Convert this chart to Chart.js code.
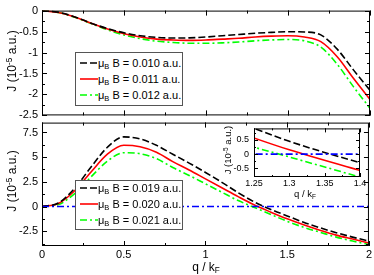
<!DOCTYPE html>
<html>
<head>
<meta charset="utf-8">
<script src="https://cdn.jsdelivr.net/npm/chart.js@4"></script>
<style>
  body { margin: 0; background: #fff; }
  #wrap { position: relative; width: 374px; height: 275px; overflow: hidden;
          font-family: "Liberation Sans", Arial, sans-serif; color: #000; }
  canvas { position: absolute; left: 0; }
  .lbl { position: absolute; white-space: nowrap; line-height: 1; transform: translate(-50%, -50%); }
  .rot { transform: translate(-50%, -50%) rotate(-90deg); }
  .legend { position: absolute; border: 1px solid #555; background: #fff; box-sizing: border-box; }
  .item { position: absolute; left: 0; height: 14px; line-height: 14px; font-size: 11px; white-space: nowrap; }
  .item svg { position: absolute; left: 4px; top: 5px; }
  .item span { position: absolute; left: 22px; }
  sub { font-size: 0.68em; vertical-align: -0.3em; line-height: 0; }
  sup { font-size: 0.68em; vertical-align: 0.55em; line-height: 0; }
</style>
</head>
<body>
<div id="wrap">
  <canvas id="top" width="374" height="126" style="top:0"></canvas>
  <canvas id="bottom" width="374" height="163" style="top:112px"></canvas>
  <canvas id="inset" width="159" height="90" style="left:215px;top:118px"></canvas>

  <div class="lbl rot" style="left:12px;top:61px;font-size:12px">J (10<sup>-5</sup> a.u.)</div>
  <div class="lbl rot" style="left:12px;top:181px;font-size:12px">J (10<sup>-5</sup> a.u.)</div>
  <div class="lbl" style="left:206px;top:267px;font-size:12px">q / k<sub>F</sub></div>
  <div class="lbl rot" style="left:228px;top:150px;font-size:9.5px">J (10<sup>-5</sup> a.u.)</div>
  <div class="lbl" style="left:305px;top:194px;font-size:9.5px">q / k<sub>F</sub></div>

  <div class="legend" id="legTop" style="left:75px;top:52px;width:108px;height:54px"></div>
  <div class="legend" id="legBottom" style="left:75px;top:180px;width:108px;height:50px"></div>
</div>
<script>
// q / kF
const qk = [0, 0.1, 0.2, 0.3, 0.4, 0.5, 0.6, 0.7, 0.8, 0.9, 1.0, 1.1, 1.2, 1.3, 1.4, 1.5, 1.6, 1.7, 1.8, 1.9, 2.0];

// upper panel, muB B = 0.010 / 0.011 / 0.012 a.u.
const jTop010 = [0, -0.04, -0.15, -0.3, -0.43, -0.53, -0.6, -0.64, -0.655, -0.65, -0.63, -0.6, -0.57, -0.54, -0.52, -0.505, -0.51, -0.58, -0.92, -1.42, -1.9];
const jTop011 = [0, -0.045, -0.15, -0.3, -0.44, -0.55, -0.63, -0.68, -0.7, -0.71, -0.7, -0.68, -0.66, -0.63, -0.61, -0.6, -0.63, -0.74, -1.1, -1.62, -2.12];
const jTop012 = [0, -0.045, -0.16, -0.31, -0.46, -0.58, -0.67, -0.73, -0.76, -0.78, -0.78, -0.77, -0.75, -0.72, -0.7, -0.69, -0.72, -0.87, -1.28, -1.82, -2.33];

// lower panel, muB B = 0.019 / 0.020 / 0.021 a.u.
const jBot019 = [0, 0.35, 1.85, 4.0, 6.0, 7.05, 6.85, 6.2, 5.3, 4.4, 3.45, 2.45, 1.4, 0.45, -0.3, -0.95, -1.6, -2.15, -2.65, -3.1, -3.5];
const jBot020 = [0, 0.3, 1.6, 3.5, 5.3, 6.2, 6.05, 5.5, 4.55, 3.7, 2.8, 1.9, 1.0, 0.15, -0.57, -1.25, -1.85, -2.4, -2.9, -3.3, -3.7];
const jBot021 = [0, 0.2, 1.3, 3.0, 4.6, 5.45, 5.35, 4.85, 3.95, 3.15, 2.3, 1.45, 0.6, -0.1, -0.8, -1.5, -2.1, -2.6, -3.1, -3.5, -3.85];
const zeroX = [0, 2];
const zeroY = [0, 0];

const topLegend = ['0.010', '0.011', '0.012'];
const bottomLegend = ['0.019', '0.020', '0.021'];

// tick labels
const xTicks = [0, 0.5, 1, 1.5, 2];
const topYTicks = [0, -0.5, -1, -1.5, -2, -2.5];
const bottomYTicks = [7.5, 5, 2.5, 0, -2.5];
const insetXTicks = [1.25, 1.3, 1.35, 1.4];
const insetYTicks = [0.5, 0, -0.5];

const styles = [
  { color: '#000000', dash: [7, 3] },
  { color: '#ff0000', dash: [] },
  { color: '#00ff00', dash: [7, 3, 2, 3] }
];
const blue = { color: '#0000ff', dash: [7, 3, 2, 3] };

Chart.defaults.font.family = '"Liberation Sans", Arial, sans-serif';
Chart.defaults.color = '#000';

const line = (xv, yv, st) => ({
  data: xv.map((x, i) => ({ x: x, y: yv[i] })),
  borderColor: st.color,
  borderDash: st.dash,
  borderWidth: 1.6,
  pointRadius: 0,
  fill: false,
  cubicInterpolationMode: 'monotone'
});

function marksFor(scale, step) {
  const out = [];
  for (let k = Math.ceil(scale.min / step - 1e-6); k * step <= scale.max + 1e-6; k++) out.push(k * step);
  return out;
}

// xmgrace style frame with ticks pointing inwards
const frameTicks = {
  id: 'frameTicks',
  beforeDatasetsDraw(chart, args, o) {
    if (!o.fill) return;
    const a = chart.chartArea;
    chart.ctx.fillStyle = '#fff';
    chart.ctx.fillRect(a.left, a.top, a.width, a.height);
  },
  afterDraw(chart, args, o) {
    const { ctx, chartArea: a, scales } = chart;
    ctx.save();
    ctx.strokeStyle = '#000';
    ctx.lineWidth = 1;
    ctx.beginPath();
    [[o.x[0], o.len[0]], [o.x[1], o.len[1]]].forEach(([step, len]) => {
      marksFor(scales.x, step).forEach(v => {
        const px = Math.round(scales.x.getPixelForValue(v)) + 0.5;
        ctx.moveTo(px, a.bottom); ctx.lineTo(px, a.bottom - len);
        ctx.moveTo(px, a.top); ctx.lineTo(px, a.top + len);
      });
    });
    [[o.y[0], o.len[0]], [o.y[1], o.len[1]]].forEach(([step, len]) => {
      marksFor(scales.y, step).forEach(v => {
        const py = Math.round(scales.y.getPixelForValue(v)) + 0.5;
        ctx.moveTo(a.left, py); ctx.lineTo(a.left + len, py);
        ctx.moveTo(a.right, py); ctx.lineTo(a.right - len, py);
      });
    });
    ctx.stroke();
    ctx.strokeRect(a.left + 0.5, a.top + 0.5, a.width - 1, a.height - 1);
    ctx.restore();
  }
};

function makeChart(id, c) {
  return new Chart(document.getElementById(id), {
    type: 'line',
    data: { datasets: c.datasets },
    options: {
      responsive: false,
      animation: false,
      devicePixelRatio: 1,
      layout: { padding: c.padding },
      plugins: { legend: { display: false }, tooltip: { enabled: false }, frameTicks: c.marks },
      scales: {
        x: {
          type: 'linear', min: c.xRange[0], max: c.xRange[1],
          grid: { display: false, drawTicks: false },
          border: { display: false },
          ticks: { display: !!c.xTicks, autoSkip: false, maxRotation: 0, padding: c.xPad,
                   font: { size: c.font }, callback: v => String(v) },
          afterBuildTicks: s => { if (c.xTicks) s.ticks = c.xTicks.map(v => ({ value: v })); },
          afterFit: s => { s.height = c.xHeight; }
        },
        y: {
          type: 'linear', min: c.yRange[0], max: c.yRange[1],
          grid: { display: false, drawTicks: false },
          border: { display: false },
          ticks: { autoSkip: false, padding: c.yPad, font: { size: c.font }, callback: v => String(v) },
          afterBuildTicks: s => { s.ticks = c.yTicks.map(v => ({ value: v })); },
          afterFit: s => { s.width = c.yWidth; }
        }
      }
    },
    plugins: [frameTicks]
  });
}

const bottomSets = [
  line(zeroX, zeroY, blue),
  line(qk, jBot019, styles[0]),
  line(qk, jBot020, styles[1]),
  line(qk, jBot021, styles[2])
];

makeChart('top', {
  datasets: [line(qk, jTop010, styles[0]), line(qk, jTop011, styles[1]), line(qk, jTop012, styles[2])],
  padding: { top: 4, right: 4, left: 0, bottom: 0 },
  xRange: [0, 2], yRange: [-2.5, 0],
  xTicks: null, yTicks: topYTicks,
  xHeight: 9, yWidth: 42, xPad: 2, yPad: 4, font: 11,
  marks: { x: [0.5, 0.25], y: [0.5, 0.25], len: [5, 3] }
});

makeChart('bottom', {
  datasets: bottomSets,
  padding: { top: 4, right: 4, left: 0, bottom: 0 },
  xRange: [0, 2], yRange: [-4, 8.5],
  xTicks: xTicks, yTicks: bottomYTicks,
  xHeight: 29, yWidth: 42, xPad: 2, yPad: 4, font: 11,
  marks: { x: [0.5, 0.25], y: [2.5, 1.25], len: [5, 3] }
});

makeChart('inset', {
  datasets: [
    line(zeroX, zeroY, blue),
    line(qk, jBot019, styles[0]),
    line(qk, jBot020, styles[1]),
    line(qk, jBot021, styles[2])
  ],
  padding: { top: 4, right: 14, left: 0, bottom: 0 },
  xRange: [1.25, 1.4], yRange: [-0.8, 0.9],
  xTicks: insetXTicks, yTicks: insetYTicks,
  xHeight: 31, yWidth: 39, xPad: 1, yPad: 5, font: 9,
  marks: { x: [0.05, 0.025], y: [0.5, 0.25], len: [4, 2], fill: true }
});

// legends
function legend(id, values, centers) {
  const box = document.getElementById(id);
  values.forEach((v, i) => {
    const st = styles[i];
    const item = document.createElement('div');
    item.className = 'item';
    item.style.top = (centers[i] - 7) + 'px';
    item.innerHTML =
      '<svg width="18" height="4"><line x1="0" y1="2" x2="18" y2="2" stroke="' + st.color +
      '" stroke-width="1.6" stroke-dasharray="' + (st.dash.join(' ') || 'none') + '"/></svg>' +
      '<span>\u03bc<sub>B</sub> B = ' + v + ' a.u.</span>';
    box.appendChild(item);
  });
}
legend('legTop', topLegend, [10, 26, 41.5]);
legend('legBottom', bottomLegend, [7, 23, 38.5]);
</script>
</body>
</html>
